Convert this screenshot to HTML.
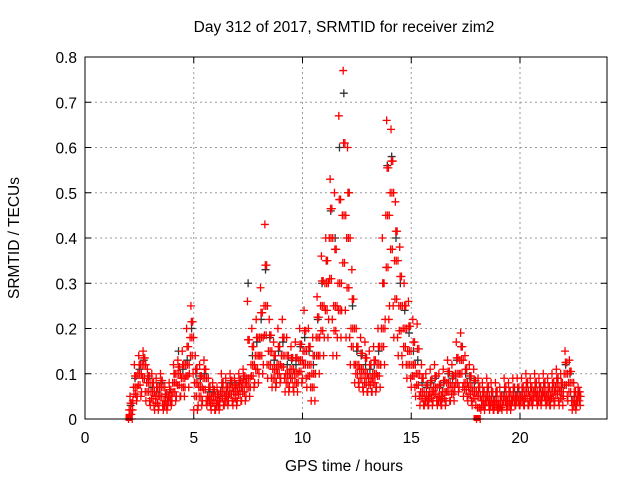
<!DOCTYPE html>
<html><head><meta charset="utf-8"><style>
html,body{margin:0;padding:0;background:#fff}
svg{display:block;font-family:"Liberation Sans",sans-serif}
</style></head><body>
<svg id="chart" width="640" height="480" viewBox="0 0 640 480">
<text x="344" y="32" font-size="15.5" text-anchor="middle">Day 312 of 2017, SRMTID for receiver zim2</text>
<text x="344" y="471" font-size="15.5" text-anchor="middle">GPS time / hours</text>
<text transform="translate(19,238) rotate(-90)" font-size="15.5" text-anchor="middle">SRMTID / TECUs</text>
<g id="grid"></g><g id="ticks"></g><g id="marks"></g>
<rect x="85" y="57" width="522" height="362" fill="none" stroke="#000" stroke-width="1"/>
</svg>
<script>
const hours = [2.0,2.2,2.4,2.6,2.8,3.0,3.2,3.4,3.6,3.8,4.0,4.2,4.4,4.6,4.8,5.0,5.2,5.4,5.6,5.8,6.0,6.2,6.4,6.6,6.8,7.0,7.2,7.4,7.6,7.8,8.0,8.2,8.4,8.6,8.8,9.0,9.2,9.4,9.6,9.8,10.0,10.2,10.4,10.6,10.8,11.0,11.2,11.4,11.6,11.8,12.0,12.2,12.4,12.6,12.8,13.0,13.2,13.4,13.6,13.8,14.0,14.2,14.4,14.6,14.8,15.0,15.2,15.4,15.6,15.8,16.0,16.2,16.4,16.6,16.8,17.0,17.2,17.4,17.6,17.8,18.0,18.2,18.4,18.6,18.8,19.0,19.2,19.4,19.6,19.8,20.0,20.2,20.4,20.6,20.8,21.0,21.2,21.4,21.6,21.8,22.0,22.2,22.4,22.6];
const redMid = [0.02,0.07,0.10,0.12,0.08,0.06,0.05,0.07,0.04,0.05,0.08,0.10,0.09,0.12,0.18,0.08,0.07,0.09,0.05,0.05,0.04,0.06,0.05,0.07,0.06,0.07,0.08,0.09,0.12,0.14,0.18,0.25,0.15,0.11,0.12,0.14,0.10,0.11,0.10,0.13,0.15,0.12,0.10,0.18,0.25,0.30,0.40,0.25,0.30,0.45,0.40,0.20,0.12,0.11,0.10,0.09,0.10,0.12,0.20,0.45,0.50,0.35,0.25,0.20,0.15,0.12,0.10,0.06,0.05,0.06,0.07,0.05,0.06,0.08,0.07,0.10,0.13,0.08,0.07,0.06,0.05,0.04,0.05,0.04,0.04,0.03,0.05,0.04,0.05,0.05,0.05,0.06,0.05,0.06,0.05,0.06,0.05,0.06,0.07,0.06,0.10,0.08,0.04,0.05];
const redHigh = [0.05,0.12,0.14,0.15,0.11,0.10,0.09,0.10,0.07,0.08,0.12,0.13,0.15,0.20,0.25,0.14,0.12,0.13,0.09,0.08,0.07,0.10,0.09,0.10,0.09,0.10,0.11,0.26,0.20,0.22,0.29,0.43,0.22,0.17,0.20,0.22,0.18,0.16,0.17,0.20,0.24,0.20,0.18,0.27,0.36,0.40,0.53,0.50,0.67,0.77,0.60,0.33,0.20,0.18,0.17,0.15,0.16,0.20,0.40,0.66,0.64,0.48,0.38,0.30,0.26,0.22,0.21,0.12,0.10,0.11,0.12,0.10,0.11,0.13,0.12,0.17,0.19,0.14,0.12,0.11,0.09,0.08,0.09,0.08,0.08,0.07,0.09,0.08,0.09,0.09,0.09,0.10,0.09,0.10,0.09,0.10,0.09,0.10,0.11,0.10,0.15,0.13,0.08,0.07];
const redLow = [0.00,0.04,0.05,0.06,0.04,0.03,0.02,0.03,0.02,0.03,0.04,0.05,0.05,0.07,0.10,0.02,0.03,0.04,0.03,0.02,0.02,0.03,0.03,0.04,0.03,0.04,0.04,0.05,0.07,0.08,0.10,0.12,0.09,0.07,0.08,0.09,0.06,0.07,0.06,0.08,0.09,0.07,0.04,0.10,0.14,0.18,0.22,0.14,0.18,0.24,0.18,0.12,0.08,0.07,0.06,0.06,0.06,0.07,0.12,0.22,0.25,0.18,0.14,0.12,0.09,0.07,0.05,0.03,0.03,0.03,0.04,0.03,0.03,0.04,0.04,0.06,0.07,0.05,0.04,0.03,0.00,0.02,0.03,0.02,0.02,0.02,0.03,0.02,0.03,0.03,0.03,0.03,0.03,0.04,0.03,0.04,0.03,0.03,0.04,0.03,0.05,0.04,0.02,0.03];
const blackVals = [0.03,0.09,0.11,0.13,0.09,0.07,0.06,0.08,0.05,0.06,0.10,0.15,0.11,0.13,0.20,0.10,0.09,0.10,0.06,0.06,0.05,0.07,0.06,0.08,0.07,0.08,0.09,0.30,0.14,0.17,0.22,0.33,0.18,0.13,0.15,0.17,0.12,0.13,0.12,0.16,0.18,0.15,0.12,0.22,0.30,0.35,0.46,0.40,0.60,0.72,0.50,0.25,0.15,0.14,0.12,0.11,0.12,0.15,0.30,0.56,0.58,0.40,0.30,0.24,0.19,0.15,0.13,0.08,0.07,0.08,0.09,0.07,0.08,0.10,0.09,0.13,0.16,0.10,0.09,0.08,0.06,0.05,0.06,0.05,0.05,0.04,0.06,0.05,0.06,0.06,0.06,0.07,0.06,0.07,0.06,0.07,0.06,0.07,0.08,0.07,0.12,0.10,0.05,0.06];
const xTicks = [0,5,10,15,20];
const yTicks = [0,0.1,0.2,0.3,0.4,0.5,0.6,0.7,0.8];
const squareHours = [2.0,18.0];

const X0=85,X1=607,Y0=419,Y1=57;
const xs = h => X0 + h*(X1-X0)/24;
const ys = v => Y0 - v*(Y0-Y1)/0.8;
const NS='http://www.w3.org/2000/svg';
function mk(tag,attrs,parent){const e=document.createElementNS(NS,tag);for(const k in attrs)e.setAttribute(k,attrs[k]);parent.appendChild(e);return e;}
const grid=document.getElementById('grid'),ticks=document.getElementById('ticks'),marks=document.getElementById('marks');
yTicks.forEach(v=>{
  const y=ys(v);
  if(v>0&&v<0.8){const g=mk('line',{x1:X0,x2:X1,y1:y,y2:y,stroke:'#999','stroke-dasharray':'2,3','stroke-width':1},grid);
  
  }
  const t=mk('line',{x1:X0,x2:X0+6,y1:y,y2:y,stroke:'#000'},ticks);
  
  
  mk('line',{x1:X1,x2:X1-6,y1:y,y2:y,stroke:'#000'},ticks);
  const l=mk('text',{x:X0-8,y:y+6,'font-size':15.5,'text-anchor':'end'},ticks);l.textContent=v===0?'0':v.toFixed(1);
  
  
});
xTicks.forEach(h=>{
  const x=xs(h);
  if(h>0){const g=mk('line',{x1:x,x2:x,y1:Y0,y2:Y1,stroke:'#999','stroke-dasharray':'2,3','stroke-width':1},grid);
  
  }
  const t=mk('line',{x1:x,x2:x,y1:Y0,y2:Y0-6,stroke:'#000'},ticks);
  
  
  mk('line',{x1:x,x2:x,y1:Y1,y2:Y1+6,stroke:'#000'},ticks);
  const l=mk('text',{x:x,y:Y0+24,'font-size':15.5,'text-anchor':'middle'},ticks);l.textContent=String(h);
  
  
});
function plus(h,v,color,name){
  const x=xs(h),y=ys(v);
  const p=mk('path',{d:`M${x-4},${y}H${x+4}M${x},${y-4}V${y+4}`,stroke:color,'stroke-width':1.3,fill:'none'},marks);
  
  
}
hours.forEach((h,i)=>plus(h+0.1,blackVals[i],'#333','black-point'));
hours.forEach((h,i)=>{
  const lo=redLow[i],md=redMid[i],hi=redHigh[i];
  plus(h,lo,'#f00','red-point');
  plus(h+0.03,md,'#f00','red-point');
  plus(h+0.05,(lo+md)/2,'#f00','red-point');
  plus(h+0.07,hi,'#f00','red-point');
  plus(h+0.09,(md+hi)/2,'#f00','red-point');
  plus(h+0.11,md,'#f00','red-point');
  plus(h+0.13,(lo+md)/2,'#f00','red-point');
  plus(h+0.15,(md+hi)/2,'#f00','red-point');
  plus(h+0.17,lo,'#f00','red-point');
  plus(h+0.19,md,'#f00','red-point');
});
squareHours.forEach(h=>{
  const r=mk('rect',{x:xs(h)-3,y:Y0-4,width:6,height:6,fill:'#f00'},marks);
  
  
});
</script>
</body></html>
